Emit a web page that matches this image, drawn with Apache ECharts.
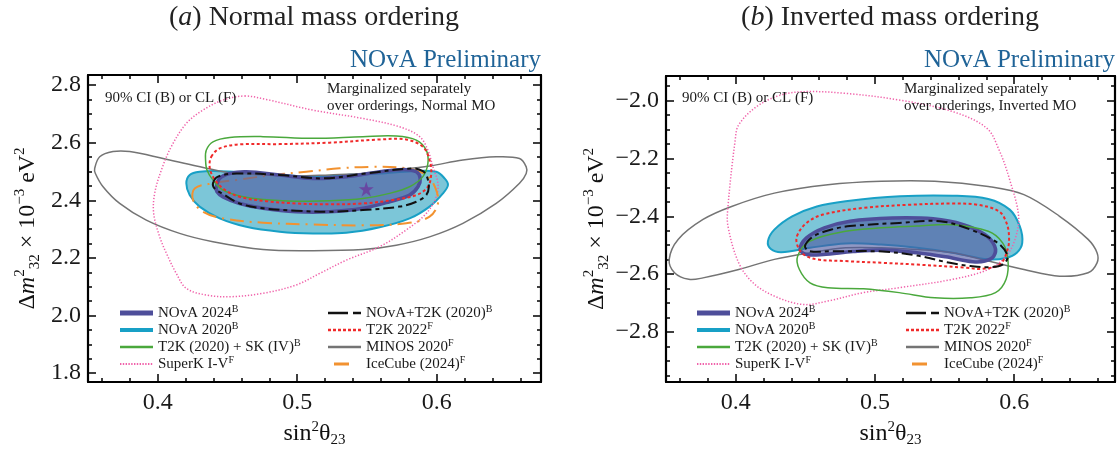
<!DOCTYPE html>
<html><head><meta charset="utf-8">
<script src="https://cdn.jsdelivr.net/npm/echarts@6/dist/echarts.min.js"></script>
<style>html,body{margin:0;padding:0;background:#fff}#c{width:1120px;height:453px}</style>
</head><body><div id="c"></div>
<script>
// ---------- tick values ----------
const xMajorTicks = [0.4, 0.5, 0.6];
const xMinorTicks = [0.36,0.38,0.42,0.44,0.46,0.48,0.52,0.54,0.56,0.58,0.62,0.64,0.66];
const yMajorTicksNO = [1.8,2.0,2.2,2.4,2.6,2.8];
const yMinorTicksNO = [1.85,1.9,1.95,2.05,2.1,2.15,2.25,2.3,2.35,2.45,2.5,2.55,2.65,2.7,2.75];
const yMajorTicksIO = [-2.8,-2.6,-2.4,-2.2,-2.0];
const yMinorTicksIO = [-2.95,-2.9,-2.85,-2.75,-2.7,-2.65,-2.55,-2.5,-2.45,-2.35,-2.3,-2.25,-2.15,-2.1,-2.05,-1.95];

// ---------- legend names ----------
const legendColA = ['NOvA 2024','NOvA 2020','T2K (2020) + SK (IV)','SuperK I-V'];
const legendColB = ['NOvA+T2K (2020)','T2K 2022','MINOS 2020','IceCube (2024)'];
const legendSup = {'NOvA 2024':'B','NOvA 2020':'B','T2K (2020) + SK (IV)':'B','SuperK I-V':'F',
  'NOvA+T2K (2020)':'B','T2K 2022':'F','MINOS 2020':'F','IceCube (2024)':'F'};

// ---------- (a) Normal ordering contours [sin2theta23, dm2_32] ----------
const minosNO = [[0.3548,2.511],[0.3584,2.551],[0.3679,2.569],[0.3799,2.569],[0.4038,2.545],[0.4277,2.519],[0.4516,2.496],[0.4755,2.488],[0.4993,2.484],[0.5232,2.488],[0.5471,2.493],[0.5710,2.505],[0.5949,2.519],[0.6188,2.540],[0.6427,2.551],[0.6594,2.545],[0.6642,2.516],[0.6642,2.493],[0.6594,2.459],[0.6427,2.389],[0.6188,2.320],[0.5949,2.273],[0.5710,2.244],[0.5471,2.229],[0.5113,2.225],[0.4755,2.229],[0.4396,2.256],[0.4157,2.285],[0.3918,2.331],[0.3727,2.389],[0.3608,2.447],[0.3553,2.493]];
const superkNO = [[0.4623,2.762],[0.4778,2.750],[0.5113,2.713],[0.5471,2.684],[0.5734,2.655],[0.5878,2.621],[0.5937,2.574],[0.5973,2.516],[0.6009,2.459],[0.5997,2.412],[0.5925,2.354],[0.5782,2.297],[0.5591,2.239],[0.5352,2.192],[0.5161,2.146],[0.4993,2.106],[0.4755,2.077],[0.4516,2.065],[0.4348,2.071],[0.4205,2.094],[0.4133,2.146],[0.4062,2.216],[0.4014,2.273],[0.3971,2.354],[0.3978,2.424],[0.4026,2.505],[0.4097,2.586],[0.4205,2.667],[0.4324,2.713],[0.4468,2.748]];
const t2kskNO = [[0.4348,2.574],[0.4396,2.603],[0.4516,2.618],[0.4755,2.621],[0.5113,2.615],[0.5471,2.621],[0.5710,2.623],[0.5854,2.609],[0.5925,2.574],[0.5937,2.528],[0.5901,2.482],[0.5806,2.447],[0.5662,2.424],[0.5471,2.406],[0.5232,2.398],[0.4993,2.397],[0.4755,2.403],[0.4588,2.415],[0.4468,2.435],[0.4396,2.470],[0.4353,2.505],[0.4343,2.540]];
const t2k2022NO = [[0.4384,2.551],[0.4444,2.580],[0.4587,2.594],[0.4874,2.595],[0.5232,2.600],[0.5591,2.611],[0.5782,2.611],[0.5901,2.586],[0.5949,2.540],[0.5961,2.493],[0.5937,2.447],[0.5854,2.418],[0.5686,2.401],[0.5471,2.389],[0.5232,2.386],[0.4993,2.389],[0.4778,2.397],[0.4587,2.412],[0.4468,2.441],[0.4396,2.482],[0.4372,2.516]];
const nova2020NO = [[0.4205,2.459],[0.4229,2.488],[0.4300,2.499],[0.4444,2.501],[0.4635,2.496],[0.4874,2.488],[0.5113,2.482],[0.5352,2.488],[0.5591,2.493],[0.5830,2.501],[0.5997,2.499],[0.6057,2.476],[0.6081,2.453],[0.6045,2.424],[0.5949,2.378],[0.5806,2.337],[0.5591,2.306],[0.5352,2.287],[0.5113,2.285],[0.4874,2.291],[0.4635,2.308],[0.4444,2.337],[0.4300,2.378],[0.4229,2.418]];
const nova2024NO = [[0.4420,2.447],[0.4444,2.476],[0.4516,2.493],[0.4635,2.499],[0.4874,2.488],[0.5113,2.476],[0.5352,2.482],[0.5591,2.499],[0.5758,2.507],[0.5854,2.499],[0.5882,2.476],[0.5866,2.447],[0.5806,2.418],[0.5662,2.395],[0.5471,2.372],[0.5232,2.360],[0.4993,2.360],[0.4755,2.372],[0.4587,2.389],[0.4468,2.412],[0.4425,2.430]];
const novat2kNO = [[0.4396,2.459],[0.4432,2.482],[0.4563,2.493],[0.4874,2.488],[0.5185,2.476],[0.5495,2.493],[0.5830,2.511],[0.5901,2.501],[0.5930,2.482],[0.5944,2.447],[0.5925,2.418],[0.5854,2.395],[0.5734,2.378],[0.5471,2.366],[0.5232,2.360],[0.4993,2.364],[0.4755,2.372],[0.4587,2.389],[0.4468,2.422],[0.4408,2.441]];
const icecubeNO = [[0.4265,2.441],[0.4253,2.401],[0.4324,2.360],[0.4468,2.337],[0.4755,2.322],[0.5113,2.316],[0.5471,2.313],[0.5782,2.320],[0.5949,2.343],[0.6009,2.389],[0.5992,2.441],[0.5925,2.488],[0.5782,2.511],[0.5543,2.516],[0.5304,2.511],[0.5065,2.499],[0.4826,2.488],[0.4587,2.472],[0.4396,2.459]];
const bestFitNO = [[0.5495, 2.439]];

// ---------- (b) Inverted ordering contours ----------
const minosIO = [[0.3523,-2.549],[0.3587,-2.480],[0.3766,-2.411],[0.3971,-2.366],[0.4278,-2.320],[0.4662,-2.291],[0.5046,-2.279],[0.5430,-2.279],[0.5814,-2.297],[0.6070,-2.325],[0.6326,-2.400],[0.6531,-2.480],[0.6595,-2.526],[0.6595,-2.561],[0.6531,-2.595],[0.6326,-2.607],[0.6070,-2.584],[0.5814,-2.555],[0.5558,-2.526],[0.5302,-2.515],[0.5046,-2.509],[0.4790,-2.509],[0.4534,-2.526],[0.4278,-2.549],[0.4022,-2.584],[0.3766,-2.613],[0.3664,-2.618],[0.3561,-2.595]];
const superkIO = [[0.4509,-1.969],[0.4790,-1.975],[0.5174,-1.998],[0.5558,-2.038],[0.5802,-2.095],[0.5891,-2.170],[0.5968,-2.274],[0.6032,-2.400],[0.6006,-2.480],[0.5942,-2.538],[0.5814,-2.584],[0.5558,-2.618],[0.5174,-2.647],[0.4918,-2.664],[0.4662,-2.693],[0.4483,-2.705],[0.4278,-2.676],[0.4125,-2.630],[0.4022,-2.561],[0.3945,-2.434],[0.3945,-2.366],[0.3997,-2.136],[0.4022,-2.084],[0.4150,-2.021],[0.4329,-1.980]];
const t2kskIO = [[0.4445,-2.538],[0.4534,-2.486],[0.4790,-2.452],[0.5046,-2.440],[0.5302,-2.434],[0.5558,-2.429],[0.5814,-2.452],[0.5917,-2.492],[0.5955,-2.549],[0.5942,-2.618],[0.5866,-2.664],[0.5686,-2.682],[0.5430,-2.682],[0.5174,-2.664],[0.4918,-2.651],[0.4662,-2.647],[0.4534,-2.630],[0.4458,-2.584]];
const t2k2022IO = [[0.4440,-2.469],[0.4509,-2.423],[0.4629,-2.394],[0.4918,-2.371],[0.5256,-2.360],[0.5558,-2.356],[0.5735,-2.360],[0.5891,-2.383],[0.5945,-2.423],[0.5963,-2.469],[0.5953,-2.515],[0.5896,-2.567],[0.5763,-2.582],[0.5658,-2.578],[0.5302,-2.567],[0.5057,-2.561],[0.4790,-2.555],[0.4583,-2.549],[0.4488,-2.532],[0.4445,-2.503]];
const nova2020IO = [[0.4232,-2.486],[0.4278,-2.446],[0.4406,-2.400],[0.4583,-2.366],[0.4790,-2.348],[0.5180,-2.331],[0.5558,-2.329],[0.5814,-2.340],[0.5968,-2.377],[0.6040,-2.434],[0.6058,-2.492],[0.6019,-2.526],[0.5942,-2.544],[0.5814,-2.549],[0.5558,-2.526],[0.5302,-2.509],[0.5046,-2.498],[0.4790,-2.494],[0.4534,-2.509],[0.4329,-2.524],[0.4253,-2.513]];
const nova2024IO = [[0.4463,-2.515],[0.4509,-2.475],[0.4637,-2.440],[0.4821,-2.417],[0.5123,-2.406],[0.5418,-2.409],[0.5635,-2.429],[0.5789,-2.463],[0.5860,-2.503],[0.5853,-2.538],[0.5789,-2.555],[0.5702,-2.557],[0.5507,-2.540],[0.5302,-2.526],[0.5057,-2.517],[0.4842,-2.522],[0.4629,-2.532],[0.4509,-2.532]];
const novat2kIO = [[0.4498,-2.503],[0.4560,-2.469],[0.4688,-2.446],[0.4821,-2.434],[0.5174,-2.423],[0.5466,-2.417],[0.5686,-2.446],[0.5881,-2.492],[0.5953,-2.538],[0.5917,-2.567],[0.5809,-2.576],[0.5686,-2.572],[0.5538,-2.561],[0.5302,-2.536],[0.5057,-2.522],[0.4698,-2.521],[0.4534,-2.521]];

// ---------- styling ----------
const SERIF = '"Liberation Serif", "DejaVu Serif", serif';
const ST = {
  'NOvA 2020': {fill:'#7cc6d8', stroke:'#18a0c6', lw:2, dash:null, lc:'#18a0c6', icon:[[33],4]},
  'NOvA 2024': {fill:'rgba(78,88,160,0.62)', stroke:'#4e4e9a', lw:3.6, dash:null, lc:'#4e4e9a', icon:[[33],5]},
  'T2K (2020) + SK (IV)': {fill:null, stroke:'#4aa83c', lw:1.5, dash:null, lc:'#4aa83c', icon:[[33],2.6]},
  'SuperK I-V': {fill:null, stroke:'#f062aa', lw:1.5, dash:[1.3,1.8], lc:'#f062aa', icon:[[1.4,1.4],2]},
  'T2K 2022': {fill:null, stroke:'#f02a2a', lw:2, dash:[3,2.5], lc:'#f02a2a', icon:[[3,2],2.6]},
  'MINOS 2020': {fill:null, stroke:'#747474', lw:1.5, dash:null, lc:'#747474', icon:[[33],2.6]},
  'NOvA+T2K (2020)': {fill:null, stroke:'#111', lw:2, dash:[11,4,4,4], lc:'#111', icon:[[20,5,8],2.6]},
  'IceCube (2024)': {fill:null, stroke:'#f29230', lw:2, dash:[14,6,2,6], lc:'#f29230', icon:[[15,40],2.8], off:6}
};

function dashPath(pattern, thick, off) {
  const W = 33;
  let d = 'M0,0L0,' + thick + 'L0,0Z M' + W + ',0L' + W + ',' + thick + 'L' + W + ',0Z';
  let x = off || 0, i = 0;
  while (x < W - 0.01) {
    const len = pattern[i % pattern.length];
    if (i % 2 === 0) {
      const x2 = Math.min(x + len, W);
      d += ' M' + x.toFixed(2) + ',0L' + x2.toFixed(2) + ',0L' + x2.toFixed(2) + ',' + thick + 'L' + x.toFixed(2) + ',' + thick + 'Z';
    }
    x += len; i++;
  }
  return 'path://' + d;
}

function contour(name, pts, g, z) {
  const s = ST[name];
  return {
    type: 'custom', name: name, coordinateSystem: 'cartesian2d',
    xAxisIndex: g * 4, yAxisIndex: g * 4, data: pts, z: z, silent: true,
    itemStyle: {color: s.lc},
    renderItem: function (params, api) {
      if (params.dataIndex !== 0) return null;
      return {
        type: 'polygon',
        shape: {points: pts.map(function (p) { return api.coord(p); }), smooth: 0.35},
        style: {fill: s.fill || 'none', stroke: s.stroke, lineWidth: s.lw, lineDash: s.dash || null}
      };
    }
  };
}

const fmtNum = v => v.toFixed(1).replace('-', '\u2212');
const richAx = {
  it: {fontFamily: SERIF, fontSize: 24, fontStyle: 'italic', color: '#111'},
  sup: {fontFamily: SERIF, fontSize: 15, verticalAlign: 'top', lineHeight: 16, color: '#111'},
  sub: {fontFamily: SERIF, fontSize: 15, verticalAlign: 'bottom', lineHeight: 16, color: '#111'}
};

function axes(dim, g, min, max, majors, minors, labelPos, oppPos, nameCfg) {
  const base = {type: 'value', gridIndex: g, min: min, max: max, splitLine: {show: false},
    axisLine: {show: false, onZero: false}};
  const tickLine = {color: '#000', width: 1.5};
  const main = Object.assign({}, base, {
    position: labelPos,
    axisLine: {show: true, onZero: false, lineStyle: {color: '#000', width: 2.2}},
    axisTick: {show: true, inside: true, length: 8, customValues: majors, lineStyle: tickLine},
    axisLabel: {show: true, customValues: majors, fontFamily: SERIF, fontSize: 24, color: '#1a1a1a',
      margin: dim === 'x' ? 9 : 7, formatter: fmtNum}
  }, nameCfg);
  const minor = Object.assign({}, base, {position: labelPos,
    axisTick: {show: true, inside: true, length: 4, customValues: minors, lineStyle: tickLine},
    axisLabel: {show: false}});
  const opp = Object.assign({}, base, {position: oppPos,
    axisLine: {show: true, onZero: false, lineStyle: {color: '#000', width: 2.2}},
    axisTick: {show: true, inside: true, length: 8, customValues: majors, lineStyle: tickLine},
    axisLabel: {show: false}});
  const oppMinor = Object.assign({}, base, {position: oppPos,
    axisTick: {show: true, inside: true, length: 4, customValues: minors, lineStyle: tickLine},
    axisLabel: {show: false}});
  return [main, minor, opp, oppMinor];
}

const xName = {name: 'sin{sup|2}\u03b8{sub|23}', nameLocation: 'middle', nameGap: 38,
  nameTextStyle: {fontFamily: SERIF, fontSize: 24, color: '#111', lineHeight: 28, rich: richAx}};
const yName = gap => ({name: '\u0394{it|m}{sup|2}{sub|32} \u00d7 10{sup|\u22123} eV{sup|2}', nameLocation: 'middle', nameGap: gap,
  nameTextStyle: {fontFamily: SERIF, fontSize: 24, color: '#111', lineHeight: 30, rich: richAx}});

const xAxes = [].concat(
  axes('x', 0, 0.35, 0.6748, xMajorTicks, xMinorTicks, 'bottom', 'top', xName),
  axes('x', 1, 0.35, 0.6724, xMajorTicks, xMinorTicks, 'bottom', 'top', xName)
);
const yAxes = [].concat(
  axes('y', 0, 1.769, 2.835, yMajorTicksNO, yMinorTicksNO, 'left', 'right', yName(45)),
  axes('y', 1, -2.973, -1.915, yMajorTicksIO, yMinorTicksIO, 'left', 'right', yName(52))
);

const starPath = 'path://M50,0 L61.8,35.4 L100,35.4 L69.1,57.3 L80.9,92.7 L50,70.8 L19.1,92.7 L30.9,57.3 L0,35.4 L38.2,35.4 Z';

const series = [
  contour('NOvA 2020', nova2020NO, 0, 1),
  contour('MINOS 2020', minosNO, 0, 2),
  contour('SuperK I-V', superkNO, 0, 2),
  contour('IceCube (2024)', icecubeNO, 0, 2),
  contour('NOvA 2024', nova2024NO, 0, 3),
  contour('T2K (2020) + SK (IV)', t2kskNO, 0, 4),
  contour('T2K 2022', t2k2022NO, 0, 4),
  contour('NOvA+T2K (2020)', novat2kNO, 0, 4),
  {type: 'scatter', name: 'best fit', xAxisIndex: 0, yAxisIndex: 0, data: bestFitNO, symbol: starPath,
    symbolSize: 15, itemStyle: {color: '#6a3a9e'}, z: 5, silent: true},
  contour('NOvA 2020', nova2020IO, 1, 1),
  contour('MINOS 2020', minosIO, 1, 2),
  contour('SuperK I-V', superkIO, 1, 2),
  contour('NOvA 2024', nova2024IO, 1, 3),
  contour('T2K (2020) + SK (IV)', t2kskIO, 1, 4),
  contour('T2K 2022', t2k2022IO, 1, 4),
  contour('NOvA+T2K (2020)', novat2kIO, 1, 4)
];

function legend(names, left) {
  return {
    orient: 'vertical', left: left, top: 304.5, padding: 0, itemGap: 0, itemWidth: 33, itemHeight: 12,
    selectedMode: false,
    data: names.map(n => ({name: n, icon: dashPath(ST[n].icon[0], ST[n].icon[1], ST[n].off)})),
    formatter: n => n + '{s|' + legendSup[n] + '}',
    textStyle: {fontFamily: SERIF, fontSize: 15, color: '#1a1a1a', lineHeight: 17,
      rich: {s: {fontFamily: SERIF, fontSize: 10, color: '#1a1a1a', verticalAlign: 'top', lineHeight: 11}}}
  };
}

function txt(x, y, text, size, align, vAlign, color, extra) {
  return {type: 'text', x: x, y: y, silent: true, z: 100, style: Object.assign({
    text: text, fontFamily: SERIF, fontSize: size, fill: color || '#1a1a1a',
    align: align, verticalAlign: vAlign, textAlign: align, textVerticalAlign: vAlign
  }, extra || {})};
}
const italicRich = {i: {fontFamily: SERIF, fontSize: 28, fontStyle: 'italic', fill: '#222'}};

const option = {
  animation: false,
  backgroundColor: '#fff',
  grid: [
    {left: 88, top: 75, width: 453, height: 307, containLabel: false},
    {left: 666, top: 76, width: 449, height: 307, containLabel: false}
  ],
  xAxis: xAxes,
  yAxis: yAxes,
  legend: [legend(legendColA, 120), legend(legendColB, 328), legend(legendColA, 697), legend(legendColB, 906)],
  graphic: [
    txt(314, 18, '({i|a}) Normal mass ordering', 28, 'center', 'middle', '#222', {rich: italicRich}),
    txt(890, 18, '({i|b}) Inverted mass ordering', 28, 'center', 'middle', '#222', {rich: italicRich}),
    txt(541, 60, 'NOvA Preliminary', 25, 'right', 'middle', '#1f6397'),
    txt(1115, 60, 'NOvA Preliminary', 25, 'right', 'middle', '#1f6397'),
    txt(105, 98, '90% CI (B) or CL (F)', 15, 'left', 'middle'),
    txt(682, 98, '90% CI (B) or CL (F)', 15, 'left', 'middle'),
    txt(327, 81, 'Marginalized separately\nover orderings, Normal MO', 15, 'left', 'top', '#1a1a1a', {lineHeight: 16.7}),
    txt(904, 81, 'Marginalized separately\nover orderings, Inverted MO', 15, 'left', 'top', '#1a1a1a', {lineHeight: 16.7})
  ],
  series: series
};

const chart = echarts.init(document.getElementById('c'), null, {renderer: 'canvas'});
chart.setOption(option);
</script>
</body></html>
